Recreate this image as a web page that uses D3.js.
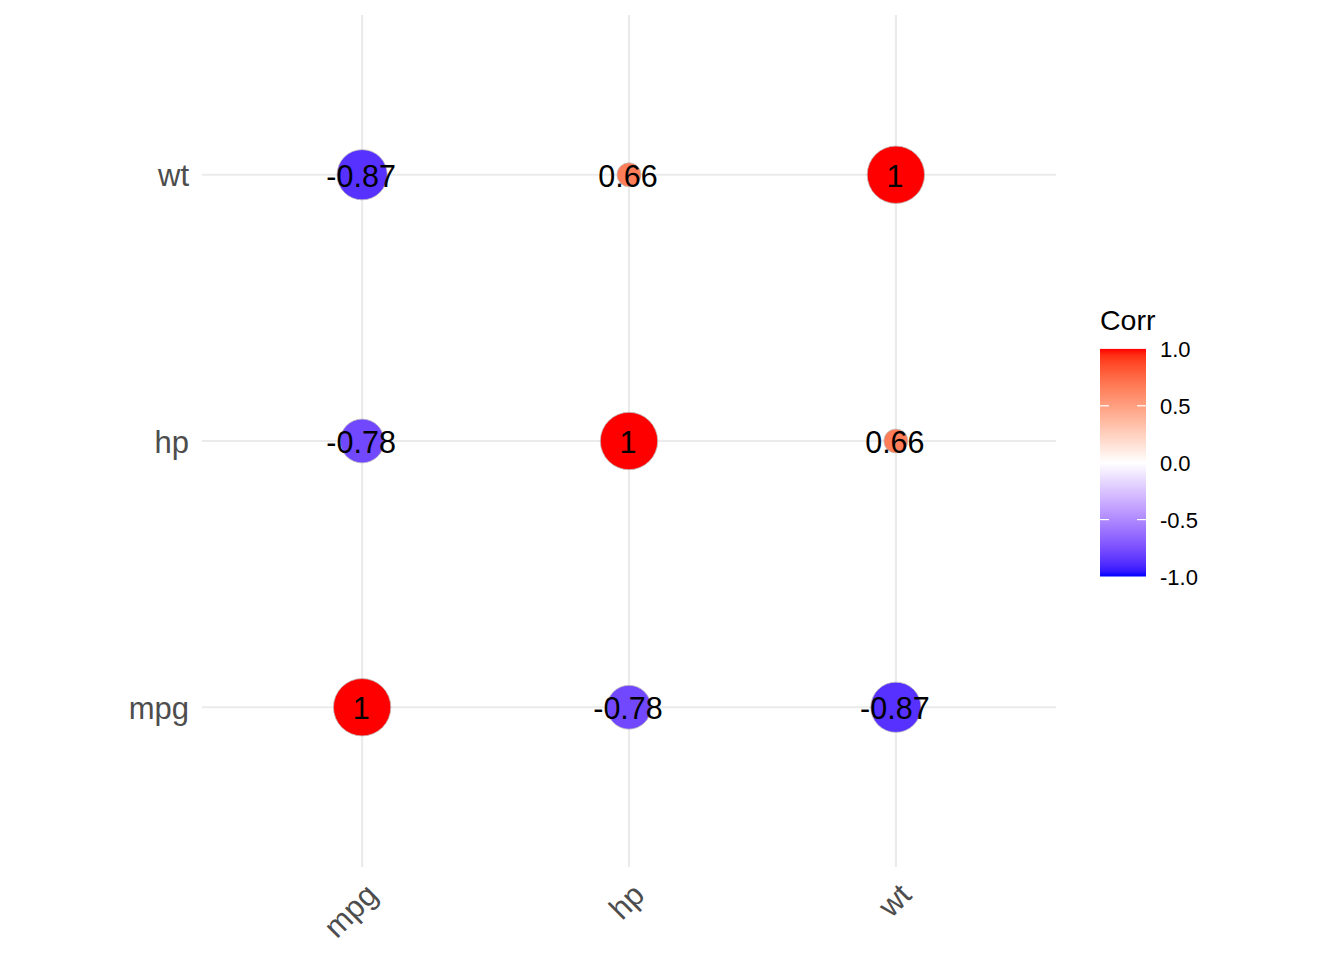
<!DOCTYPE html>
<html>
<head>
<meta charset="utf-8">
<script src="https://cdn.jsdelivr.net/npm/d3@7"></script>
<style>
  html, body { margin: 0; padding: 0; background: #ffffff; }
  svg { display: block; font-family: "Liberation Sans", Arial, sans-serif; }
</style>
</head>
<body>
<svg id="chart" width="1344" height="960"></svg>
<script>
// ---- data ----
const variables = ["mpg", "hp", "wt"];
// correlation matrix rows/cols in order of variables
const corrRows = [
  [1, -0.78, -0.87],
  [-0.78, 1, 0.66],
  [-0.87, 0.66, 1]
];
const legendTicks = [-1, -0.5, 0, 0.5, 1];
const legendTitle = "Corr";

// ---- build long table ----
const cells = [];
variables.forEach((rv, i) => {
  variables.forEach((cv, j) => {
    cells.push({ x: cv, y: rv, value: corrRows[i][j] });
  });
});

const svg = d3.select("#chart");

// ---- scales ----
const x = d3.scalePoint().domain(variables).range([202, 1056]).padding(0.6);
const y = d3.scalePoint().domain(variables).range([867, 15]).padding(0.6);

const colorScale = v => v >= 0
  ? d3.interpolateLab("#ffffff", "#ff0000")(v)
  : d3.interpolateLab("#ffffff", "#0000ff")(-v);

const absVals = cells.map(d => Math.abs(d.value));
const rescale = d3.scaleLinear().domain(d3.extent(absVals)).range([0, 1]);
const rScale = d3.scaleSqrt().domain([0, 1]).range([12.0, 28.7]);

// ---- grid ----
const grid = svg.append("g");
grid.selectAll("line.v").data(variables).join("line")
  .attr("x1", d => x(d)).attr("x2", d => x(d))
  .attr("y1", 15).attr("y2", 867)
  .attr("stroke", "#EBEBEB").attr("stroke-width", 2.2);
grid.selectAll("line.h").data(variables).join("line")
  .attr("y1", d => y(d)).attr("y2", d => y(d))
  .attr("x1", 202).attr("x2", 1056)
  .attr("stroke", "#EBEBEB").attr("stroke-width", 2.2);

// ---- circles ----
svg.append("g").selectAll("circle").data(cells).join("circle")
  .attr("cx", d => x(d.x))
  .attr("cy", d => y(d.y))
  .attr("r", d => rScale(rescale(Math.abs(d.value))))
  .attr("fill", d => colorScale(d.value))
  .attr("stroke", "#BEBEBE")
  .attr("stroke-width", 0.8);

// ---- labels ----
svg.append("g").selectAll("text").data(cells).join("text")
  .attr("x", d => x(d.x) - 1)
  .attr("y", d => y(d.y))
  .attr("dy", "0.4em")
  .attr("text-anchor", "middle")
  .attr("font-size", 30.5)
  .attr("fill", "#000000")
  .text(d => String(d.value));

// ---- axes ----
const yAxis = svg.append("g")
  .attr("transform", "translate(189,0)")
  .call(d3.axisLeft(y).tickSize(0).tickPadding(0));
yAxis.select(".domain").remove();
yAxis.selectAll("text")
  .attr("font-size", 31)
  .attr("font-family", "Liberation Sans, Arial, sans-serif")
  .attr("fill", "#4D4D4D")
  .attr("dy", "0.36em");

const xAxis = svg.append("g")
  .attr("transform", "translate(1,881)")
  .call(d3.axisBottom(x).tickSize(0).tickPadding(0));
xAxis.select(".domain").remove();
xAxis.selectAll("text")
  .attr("font-size", 31)
  .attr("font-family", "Liberation Sans, Arial, sans-serif")
  .attr("fill", "#4D4D4D")
  .attr("y", 0)
  .attr("dy", "0.72em")
  .attr("text-anchor", "end")
  .attr("transform", "rotate(-45)");

// ---- legend ----
const barX = 1100, barW = 46;
const lScale = d3.scaleLinear().domain([-1, 1]).range([576.5, 348.9]);

const defs = svg.append("defs");
const grad = defs.append("linearGradient")
  .attr("id", "corrGrad")
  .attr("x1", "0").attr("y1", "1").attr("x2", "0").attr("y2", "0");
const stopVals = d3.range(0, 41).map(i => -1 + i * 0.05);
grad.selectAll("stop").data(stopVals).join("stop")
  .attr("offset", d => (d + 1) / 2)
  .attr("stop-color", d => colorScale(d));

svg.append("rect")
  .attr("x", barX).attr("y", lScale(1))
  .attr("width", barW).attr("height", lScale(-1) - lScale(1))
  .attr("fill", "url(#corrGrad)");

const innerTicks = legendTicks.filter(t => Math.abs(t) < 1);
const tk = svg.append("g");
tk.selectAll("line.l").data(innerTicks).join("line")
  .attr("x1", barX).attr("x2", barX + 9)
  .attr("y1", d => lScale(d)).attr("y2", d => lScale(d))
  .attr("stroke", "#ffffff").attr("stroke-width", 1.2);
tk.selectAll("line.r").data(innerTicks).join("line")
  .attr("x1", barX + barW - 9).attr("x2", barX + barW)
  .attr("y1", d => lScale(d)).attr("y2", d => lScale(d))
  .attr("stroke", "#ffffff").attr("stroke-width", 1.2);

const fmt = v => (v < 0 ? "-" : "") + Math.abs(v).toFixed(1);
const lAxis = svg.append("g")
  .attr("transform", `translate(${barX + barW},0)`)
  .call(d3.axisRight(lScale).tickValues(legendTicks).tickFormat(fmt).tickSize(0).tickPadding(14));
lAxis.select(".domain").remove();
lAxis.selectAll("text")
  .attr("font-size", 22)
  .attr("font-family", "Liberation Sans, Arial, sans-serif")
  .attr("fill", "#000000")
  .attr("dy", "0.36em");

svg.append("text")
  .attr("x", barX).attr("y", 330)
  .attr("font-size", 28.5)
  .attr("fill", "#000000")
  .text(legendTitle);
</script>
</body>
</html>
